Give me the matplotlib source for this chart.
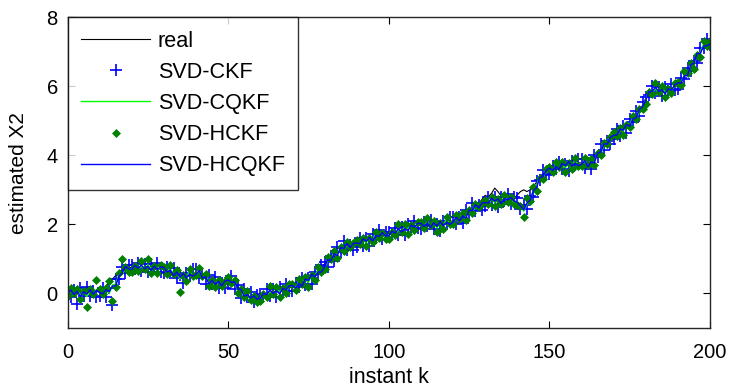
import numpy as np
import matplotlib
matplotlib.use("Agg")
import matplotlib.pyplot as plt

plt.rcParams['font.family'] = ['Liberation Sans', 'DejaVu Sans']

k = np.arange(0, 201)

real = [
    0.00, 0.02, 0.04, 0.03, 0.01, -0.01, 0.00, 0.02, 0.04, 0.05,
    0.05, 0.12, 0.22, 0.32, 0.42, 0.52, 0.60, 0.67, 0.72, 0.75,
    0.76, 0.77, 0.76, 0.75, 0.76, 0.77, 0.76, 0.74, 0.72, 0.71,
    0.70, 0.68, 0.65, 0.60, 0.55, 0.50, 0.48, 0.50, 0.55, 0.58,
    0.60, 0.58, 0.52, 0.45, 0.38, 0.32, 0.28, 0.26, 0.28, 0.32,
    0.36, 0.35, 0.28, 0.18, 0.08, 0.00, -0.08, -0.12, -0.15, -0.13,
    -0.08, -0.04, 0.00, 0.03, 0.05, 0.06, 0.08, 0.10, 0.13, 0.16,
    0.20, 0.24, 0.28, 0.33, 0.38, 0.43, 0.50, 0.58, 0.66, 0.75,
    0.85, 0.98, 1.10, 1.22, 1.30, 1.33, 1.35, 1.37, 1.39, 1.41,
    1.43, 1.47, 1.52, 1.56, 1.58, 1.60, 1.63, 1.66, 1.68, 1.70,
    1.73, 1.76, 1.78, 1.80, 1.83, 1.86, 1.90, 1.93, 1.95, 1.97,
    1.98, 2.00, 2.01, 2.00, 1.98, 1.97, 1.98, 2.01, 2.05, 2.08,
    2.10, 2.13, 2.17, 2.22, 2.28, 2.35, 2.42, 2.50, 2.60, 2.72,
    2.84, 2.80, 2.90, 3.05, 2.95, 2.82, 2.75, 2.72, 2.70, 2.75,
    2.85, 2.95, 3.00, 2.95, 3.00, 3.10, 3.22, 3.35, 3.45, 3.52,
    3.58, 3.62, 3.65, 3.68, 3.70, 3.72, 3.72, 3.74, 3.76, 3.78,
    3.78, 3.76, 3.74, 3.78, 3.88, 4.00, 4.12, 4.25, 4.38, 4.48,
    4.55, 4.62, 4.70, 4.78, 4.85, 4.92, 5.00, 5.10, 5.25, 5.45,
    5.65, 5.80, 5.88, 5.90, 5.90, 5.88, 5.87, 5.88, 5.92, 5.98,
    6.05, 6.15, 6.27, 6.40, 6.55, 6.70, 6.85, 7.00, 7.15, 7.25,
    7.25]

svd_ckf = [
    0.10, -0.10, 0.09, -0.30, 0.15, -0.07, 0.20, -0.08, 0.06, -0.10,
    -0.08, 0.17, -0.09, 0.16, -0.32, 0.42, 0.42, 0.77, 0.59, 0.83,
    0.81, 0.72, 0.88, 0.65, 0.84, 0.61, 0.86, 0.72, 0.87, 0.63,
    0.58, 0.76, 0.59, 0.74, 0.45, 0.54, 0.30, 0.60, 0.50, 0.70,
    0.70, 0.46, 0.57, 0.27, 0.52, 0.26, 0.48, 0.16, 0.30, 0.17,
    0.28, 0.50, 0.14, 0.24, -0.12, 0.12, -0.11, 0.05, -0.26, -0.05,
    -0.03, -0.09, 0.12, -0.07, 0.13, -0.10, 0.18, 0.08, 0.28, 0.08,
    0.06, 0.30, 0.20, 0.44, 0.25, 0.44, 0.28, 0.63, 0.56, 0.82,
    0.90, 0.78, 1.07, 0.94, 1.34, 1.21, 1.52, 1.26, 1.41, 1.26,
    1.35, 1.62, 1.38, 1.62, 1.38, 1.72, 1.60, 1.83, 1.57, 1.78,
    1.78, 1.71, 1.90, 1.70, 1.91, 1.70, 2.00, 1.91, 2.10, 1.89,
    1.86, 2.08, 1.95, 2.14, 1.88, 2.01, 1.80, 2.11, 2.00, 2.20,
    2.20, 2.01, 2.22, 2.04, 2.42, 2.29, 2.62, 2.38, 2.56, 2.43,
    2.52, 2.80, 2.56, 2.78, 2.50, 2.80, 2.67, 2.89, 2.59, 2.80,
    2.75, 2.45, 2.57, 2.45, 2.83, 2.79, 3.25, 3.28, 3.57, 3.42,
    3.46, 3.70, 3.59, 3.82, 3.60, 3.76, 3.54, 3.84, 3.71, 3.90,
    3.88, 3.64, 3.79, 3.60, 4.02, 3.94, 4.32, 4.15, 4.40, 4.33,
    4.47, 4.77, 4.56, 4.84, 4.65, 5.04, 4.97, 5.27, 5.14, 5.53,
    5.70, 5.75, 6.00, 5.80, 5.98, 5.72, 5.97, 5.86, 6.07, 5.90,
    5.93, 6.23, 6.21, 6.54, 6.45, 6.74, 6.67, 7.10, 7.10, 7.37,
    7.20]

svd_cqkf = [
    -0.06, 0.06, 0.01, 0.10, -0.04, 0.01, -0.09, 0.07, 0.01, 0.11,
    0.05, -0.04, 0.08, 0.01, 0.25, 0.27, 0.55, 0.55, 0.71, 0.67,
    0.72, 0.85, 0.69, 0.78, 0.66, 0.83, 0.74, 0.83, 0.66, 0.75,
    0.73, 0.65, 0.71, 0.55, 0.59, 0.42, 0.53, 0.49, 0.63, 0.54,
    0.54, 0.62, 0.49, 0.52, 0.33, 0.34, 0.19, 0.31, 0.25, 0.38,
    0.41, 0.29, 0.31, 0.09, 0.15, -0.03, 0.02, -0.17, -0.14, -0.21,
    -0.12, 0.04, -0.07, 0.06, -0.05, 0.12, 0.06, 0.19, 0.07, 0.20,
    0.21, 0.19, 0.32, 0.25, 0.39, 0.32, 0.51, 0.52, 0.69, 0.66,
    0.74, 0.94, 0.99, 1.19, 1.15, 1.29, 1.23, 1.41, 1.36, 1.47,
    1.48, 1.41, 1.55, 1.47, 1.65, 1.57, 1.73, 1.61, 1.69, 1.62,
    1.69, 1.84, 1.71, 1.83, 1.73, 1.92, 1.88, 2.02, 1.89, 2.01,
    2.01, 1.97, 2.07, 1.95, 2.02, 1.89, 2.03, 2.00, 2.13, 2.04,
    2.04, 2.17, 2.14, 2.29, 2.23, 2.37, 2.33, 2.53, 2.51, 2.64,
    2.65, 2.59, 2.73, 2.63, 2.77, 2.65, 2.80, 2.67, 2.71, 2.64,
    2.66, 2.58, 2.38, 2.58, 2.65, 3.01, 3.13, 3.39, 3.36, 3.54,
    3.61, 3.59, 3.71, 3.63, 3.74, 3.64, 3.77, 3.73, 3.84, 3.74,
    3.72, 3.80, 3.71, 3.85, 3.83, 4.02, 4.03, 4.30, 4.35, 4.54,
    4.60, 4.56, 4.73, 4.69, 4.92, 4.89, 5.10, 5.05, 5.26, 5.37,
    5.61, 5.88, 5.81, 5.93, 5.80, 5.94, 5.85, 5.97, 5.86, 6.02,
    6.08, 6.12, 6.33, 6.35, 6.59, 6.62, 6.90, 6.99, 7.23, 7.21,
    7.25]

svd_hckf = [
    -0.08, 0.17, 0.02, 0.13, -0.15, 0.07, -0.38, 0.14, -0.01, 0.40,
    0.12, -0.03, 0.15, 0.35, -0.22, 0.20, 0.59, 1.00, 0.78, 0.63,
    0.61, 0.79, 0.66, 0.95, 0.70, 1.00, 0.58, 0.79, 0.60, 0.81,
    0.78, 0.57, 0.82, 0.57, 0.67, 0.05, 0.54, 0.36, 0.70, 0.50,
    0.52, 0.73, 0.50, 0.55, 0.22, 0.40, 0.18, 0.38, 0.23, 0.37,
    0.48, 0.30, 0.38, 0.00, 0.12, -0.10, 0.06, -0.18, -0.07, -0.25,
    -0.23, -0.02, -0.10, 0.23, -0.01, 0.20, -0.10, 0.15, 0.01, 0.26,
    0.26, 0.11, 0.43, 0.27, 0.47, 0.20, 0.52, 0.39, 0.76, 0.62,
    0.72, 1.05, 1.00, 1.22, 1.04, 1.35, 1.22, 1.48, 1.34, 1.46,
    1.55, 1.42, 1.62, 1.38, 1.62, 1.50, 1.77, 1.60, 1.76, 1.58,
    1.58, 1.78, 1.68, 2.00, 1.77, 2.00, 1.72, 1.98, 1.83, 2.07,
    2.06, 1.89, 2.18, 1.97, 2.10, 1.77, 2.04, 1.87, 2.20, 2.00,
    2.02, 2.28, 2.15, 2.32, 2.12, 2.43, 2.32, 2.60, 2.49, 2.63,
    2.72, 2.60, 2.80, 2.54, 2.74, 2.58, 2.84, 2.66, 2.78, 2.60,
    2.55, 2.52, 2.22, 2.75, 2.69, 3.09, 2.97, 3.35, 3.30, 3.60,
    3.66, 3.51, 3.82, 3.65, 3.82, 3.52, 3.78, 3.60, 3.91, 3.70,
    3.70, 3.91, 3.72, 3.88, 3.72, 4.08, 4.02, 4.37, 4.33, 4.53,
    4.67, 4.57, 4.80, 4.60, 4.89, 4.82, 5.14, 5.04, 5.33, 5.33,
    5.50, 5.82, 5.78, 6.10, 5.84, 6.02, 5.69, 5.93, 5.80, 6.08,
    6.13, 6.04, 6.44, 6.37, 6.67, 6.50, 6.91, 6.86, 7.30, 7.17,
    7.30]

svd_hcqkf = [
    -0.04, 0.10, -0.03, 0.06, -0.09, 0.05, -0.02, 0.11, -0.02, 0.09,
    0.03, -0.01, 0.11, 0.05, 0.22, 0.22, 0.50, 0.59, 0.78, 0.71,
    0.70, 0.81, 0.73, 0.82, 0.71, 0.79, 0.67, 0.79, 0.69, 0.77,
    0.75, 0.62, 0.68, 0.51, 0.62, 0.47, 0.58, 0.45, 0.56, 0.50,
    0.56, 0.66, 0.45, 0.48, 0.28, 0.38, 0.26, 0.35, 0.22, 0.36,
    0.39, 0.32, 0.34, 0.13, 0.12, -0.08, -0.03, -0.13, -0.07, -0.17,
    -0.14, 0.00, -0.03, 0.10, 0.00, 0.08, -0.01, 0.15, 0.10, 0.22,
    0.23, 0.16, 0.29, 0.21, 0.42, 0.37, 0.56, 0.48, 0.62, 0.62,
    0.76, 0.98, 0.95, 1.15, 1.10, 1.33, 1.30, 1.45, 1.33, 1.45,
    1.46, 1.44, 1.58, 1.51, 1.62, 1.52, 1.68, 1.65, 1.76, 1.66,
    1.67, 1.80, 1.75, 1.87, 1.78, 1.88, 1.81, 1.98, 1.92, 2.03,
    2.03, 1.94, 2.04, 1.91, 2.05, 1.94, 2.08, 1.96, 2.06, 2.00,
    2.06, 2.21, 2.10, 2.25, 2.18, 2.41, 2.40, 2.57, 2.48, 2.62,
    2.63, 2.62, 2.76, 2.67, 2.74, 2.60, 2.75, 2.71, 2.78, 2.68,
    2.64, 2.54, 2.42, 2.62, 2.70, 2.97, 3.06, 3.35, 3.39, 3.56,
    3.63, 3.56, 3.68, 3.59, 3.77, 3.69, 3.82, 3.69, 3.77, 3.70,
    3.74, 3.84, 3.67, 3.81, 3.78, 4.06, 4.10, 4.34, 4.32, 4.52,
    4.58, 4.59, 4.76, 4.73, 4.89, 4.84, 5.05, 5.09, 5.33, 5.41,
    5.59, 5.84, 5.85, 5.97, 5.85, 5.90, 5.78, 5.93, 5.89, 6.04,
    6.10, 6.09, 6.30, 6.31, 6.62, 6.67, 6.95, 6.95, 7.16, 7.17,
    7.22]

x_ticks = [0, 50, 100, 150, 200]
y_ticks = [0, 2, 4, 6, 8]

fig = plt.figure(figsize=(7.3, 3.9), dpi=100)
ax = fig.add_axes([0.0925, 0.159, 0.8801, 0.797])

ax.plot(k, real, color='black', lw=0.8, label='real')
ax.plot(k, svd_ckf, linestyle='none', marker='+', color=(0, 0, 1),
        ms=9, mew=1.2, label='SVD-CKF')
ax.plot(k, svd_cqkf, color=(0, 1, 0), lw=1.0, label='SVD-CQKF')
ax.plot(k, svd_hckf, linestyle='none', marker='D', color=(0, 0.5, 0),
        ms=4, mew=0.5, label='SVD-HCKF')
ax.plot(k, svd_hcqkf, color=(0, 0, 1), lw=1.0, label='SVD-HCQKF')

ax.set_xlim(0, 200)
ax.set_ylim(-1, 8)
ax.set_xticks(x_ticks)
ax.set_yticks(y_ticks)
ax.tick_params(direction='in', length=5, width=0.8, top=True, right=True,
               labelsize=14.5, colors='black')
ax.tick_params(axis='x', pad=11)
ax.tick_params(axis='y', pad=7)
for s in ax.spines.values():
    s.set_linewidth(1.0)
    s.set_color('#262626')
ax.set_xlabel('instant k', fontsize=15.5)
ax.set_ylabel('estimated X2', fontsize=15)
ax.xaxis.set_label_coords(0.5, -0.125)
ax.yaxis.set_label_coords(-0.062, 0.5)

leg = ax.legend(loc='upper left', borderaxespad=0, fontsize=15.6,
                frameon=True, fancybox=False, edgecolor='black',
                handlelength=3.2, labelspacing=0.47, borderpad=0.62,
                handletextpad=0.34)
leg.get_frame().set_linewidth(1.0)

fig.savefig('out.png', dpi=100)
